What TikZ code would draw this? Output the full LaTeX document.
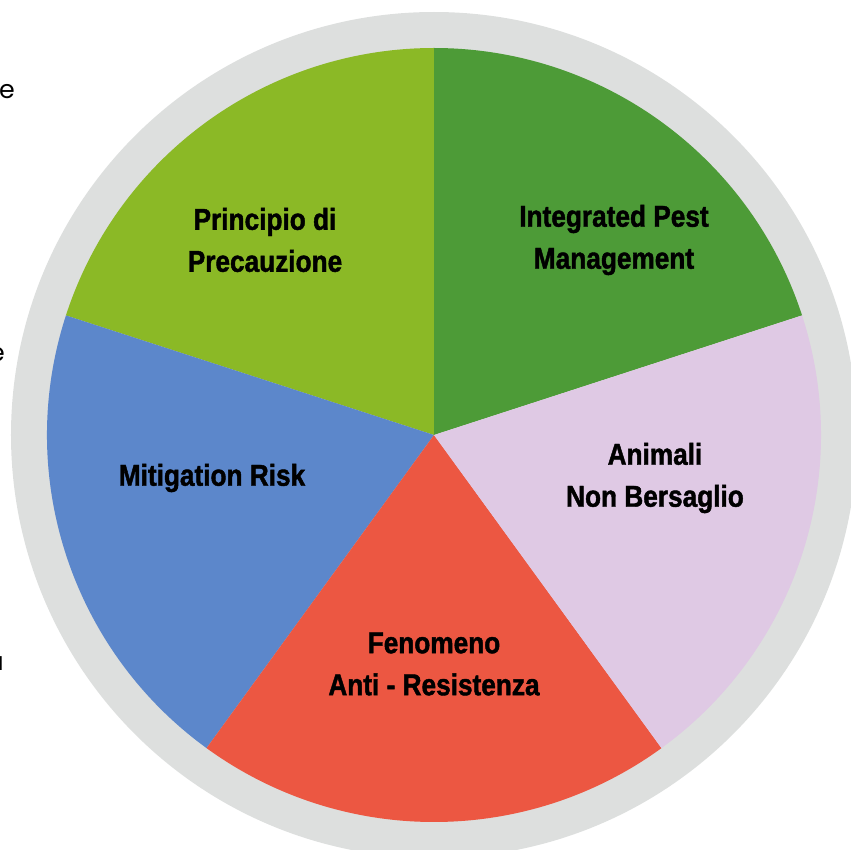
\documentclass[tikz,border=0pt]{standalone}
\usepackage{fontspec}
\usepackage{xcolor}
\usepackage{tikz}
\usetikzlibrary{calc}
\newfontfamily\sliceface{Liberation Sans}[FakeStretch=0.87,BoldFeatures={FakeBold=1.4}]
\newfontfamily\sideface{Poppins}
\definecolor{ring}{HTML}{DDDFDE}
\definecolor{ipm}{HTML}{4D9B37}
\definecolor{prec}{HTML}{8BB926}
\definecolor{mitig}{HTML}{5C87CB}
\definecolor{resist}{HTML}{EC5742}
\definecolor{nontarget}{HTML}{DFC9E4}
\tikzset{
  slice/.style={line width=0pt},
  lab/.style={text=black, align=center, inner sep=0pt,
    font=\sliceface\bfseries\fontsize{22.6}{31.5}\selectfont},
  side/.style={text=black, inner sep=0pt, anchor=east,
    font=\sideface\fontsize{19}{23}\selectfont},
}

\begin{document}
\begin{tikzpicture}[x=0.75pt,y=0.75pt]
  \def\r{387}
  \def\R{423}
  \useasboundingbox (-434,-415) rectangle (417,435);
  \coordinate (O) at (0,0);

  % grey ring behind the pie
  \fill[ring] (O) circle (\R);

  % five slices of 72 degrees
  \foreach \a/\b/\c in {18/90/ipm, 90/162/prec, 162/234/mitig,
                        234/306/resist, 306/378/nontarget}{
    \fill[\c,slice] (O) -- (\a:\r) arc[start angle=\a, end angle=\b, radius=\r] -- cycle;
  }

  \node[lab] (ipmlab)  at (180,195)  {Integrated Pest\\Management};
  \node[lab] (preclab) at (-169,195) {Principio di\\Precauzione};
  \node[lab] (mitlab)  at (-222,-43) {Mitigation Risk};
  \node[lab] (reslab)  at (0,-229)   {Fenomeno\\Anti - Resistenza};
  \node[lab] (ntlab)   at (221,-43)  {Animali\\Non Bersaglio};

  % cut-off text on the left border
  \node[side] (sidea) at (-419,343) {e};
  \node[side] (sideb) at (-429,80)  {e};
  \node[side] (sidec) at (-430,-229) {a};
\end{tikzpicture}
\end{document}
